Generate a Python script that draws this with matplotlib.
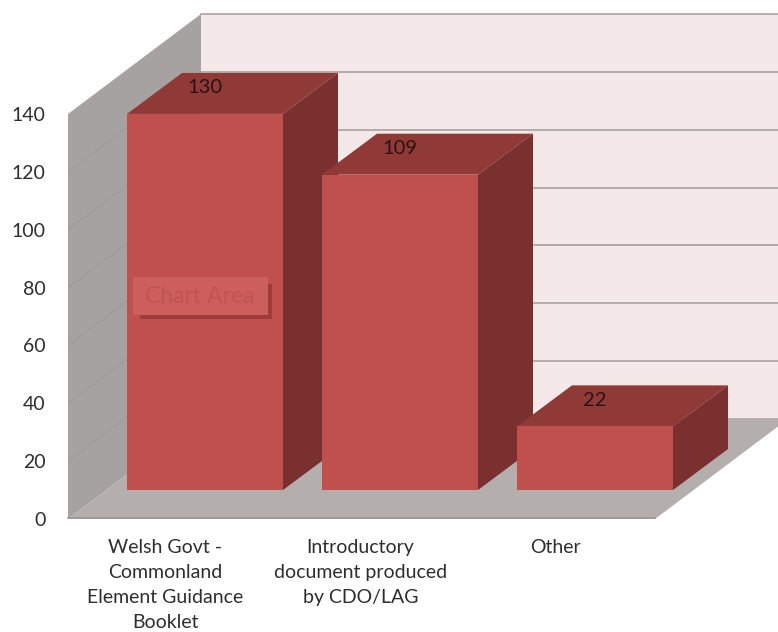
import matplotlib
matplotlib.use("Agg")
import matplotlib.pyplot as plt
from matplotlib.patches import Polygon, Rectangle

categories = ["Welsh Govt -\nCommonland\nElement Guidance\nBooklet",
              "Introductory\ndocument produced\nby CDO/LAG",
              "Other"]
values = [130, 109, 22]
y_ticks = [0, 20, 40, 60, 80, 100, 120, 140]

plt.rcParams['font.family'] = ['Lato', 'DejaVu Sans']

W, H = 778, 632
LEFT, BASE = 68, 519           # pixel position of the value-axis origin
PX_PER_UNIT = 405 / 140
PX_PER_CAT = 195
CENTER0 = 205                  # pixel centre of the first bar front
WALL_DX, WALL_DY = 133 / PX_PER_CAT, 100 / PX_PER_UNIT
BAR_DX, BAR_DY = 55 / PX_PER_CAT, 41 / PX_PER_UNIT
LIFT = 29 / PX_PER_UNIT        # how far bars stand back from the floor's front edge
BAR_W = 156 / PX_PER_CAT

C_FRONT, C_SIDE, C_TOP = '#C0504D', '#7A302E', '#903A38'
C_BACK, C_FLOOR, C_WALL = '#F4E8E8', '#B4AFAD', '#A5A2A1'
C_GRID = '#A09C9C'

fig = plt.figure(figsize=(W / 100, H / 100), dpi=100, facecolor='white')
ax = fig.add_axes([LEFT / W, (H - BASE) / H, (W - LEFT) / W, BASE / H])
ax.set_facecolor('white')
x0 = (LEFT - CENTER0) / PX_PER_CAT
ax.set_xlim(x0, (W - CENTER0) / PX_PER_CAT)
ax.set_ylim(0, BASE / PX_PER_UNIT)
for s in ax.spines.values():
    s.set_visible(False)

top = max(y_ticks)
x_floor_end = (655 - CENTER0) / PX_PER_CAT

# back wall
ax.add_patch(Polygon([(x0 + WALL_DX, WALL_DY), (x0 + WALL_DX + 5, WALL_DY),
                      (x0 + WALL_DX + 5, top + WALL_DY), (x0 + WALL_DX, top + WALL_DY)],
                     fc=C_BACK, ec='none', zorder=1))
for v in y_ticks:
    ax.plot([x0 + WALL_DX, x0 + WALL_DX + 5], [v + WALL_DY] * 2, color=C_GRID, lw=1.1, zorder=2)

# side wall
ax.add_patch(Polygon([(x0, 0), (x0, top), (x0 + WALL_DX, top + WALL_DY), (x0 + WALL_DX, WALL_DY)],
                     fc=C_WALL, ec='none', zorder=3))
for v in y_ticks[1:-1]:
    ax.plot([x0, x0 + WALL_DX], [v, v + WALL_DY], color='#959291', lw=0.7, alpha=0.6, zorder=4)

# floor
ax.add_patch(Polygon([(x0, 0), (x_floor_end, 0), (x_floor_end + WALL_DX, WALL_DY), (x0 + WALL_DX, WALL_DY)],
                     fc=C_FLOOR, ec='none', zorder=5))
ax.plot([x0, x_floor_end], [0.25, 0.25], color='#979795', lw=1.2, zorder=6, clip_on=False)

# bars, left to right so that each one covers the previous side face
for i, (cat, val) in enumerate(zip(categories, values)):
    z = 10 + i
    xl = i - BAR_W / 2
    xr = i + BAR_W / 2
    yb = LIFT
    yt = LIFT + val
    ax.add_patch(Polygon([(xl, yt), (xr, yt), (xr + BAR_DX, yt + BAR_DY), (xl + BAR_DX, yt + BAR_DY)],
                         fc=C_TOP, ec='none', zorder=z))
    ax.add_patch(Polygon([(xr, yb), (xr, yt), (xr + BAR_DX, yt + BAR_DY), (xr + BAR_DX, yb + BAR_DY)],
                         fc=C_SIDE, ec='none', zorder=z))
    ax.bar(i, val, width=BAR_W, bottom=LIFT, color=C_FRONT, edgecolor='none', zorder=z + 0.1)
    ax.text(i, yt + 9, str(val), ha='center', va='center', fontsize=14.5,
            color='#2A1212', zorder=z + 0.2)

# axes
ax.set_yticks(y_ticks)
ax.set_xticks([x0 + (i + 0.5) for i in range(len(categories))])
ax.set_xticklabels(categories, linespacing=1.58)
ax.tick_params(axis='y', length=0, pad=16, labelsize=14, labelcolor='#2E2E2E')
ax.tick_params(axis='x', length=0, pad=14.5, labelsize=14, labelcolor='#2E2E2E')

# faint "Chart Area" tooltip left in the screenshot
def px_rect(x1, y1, x2, y2, **kw):
    fig.add_artist(Rectangle((x1 / W, 1 - y2 / H), (x2 - x1) / W, (y2 - y1) / H,
                             transform=fig.transFigure, **kw))
px_rect(140, 284, 272, 319, fc='#8A2F2C', ec='none', alpha=0.6, zorder=20)
px_rect(133, 277, 268, 315, fc='#CC5F5C', ec='none', zorder=21)
fig.text(200 / W, 1 - 296 / H, "Chart Area", ha='center', va='center', fontsize=16.5,
         color='#BF5552', zorder=22)

fig.savefig('out.png', dpi=100, facecolor='white')
